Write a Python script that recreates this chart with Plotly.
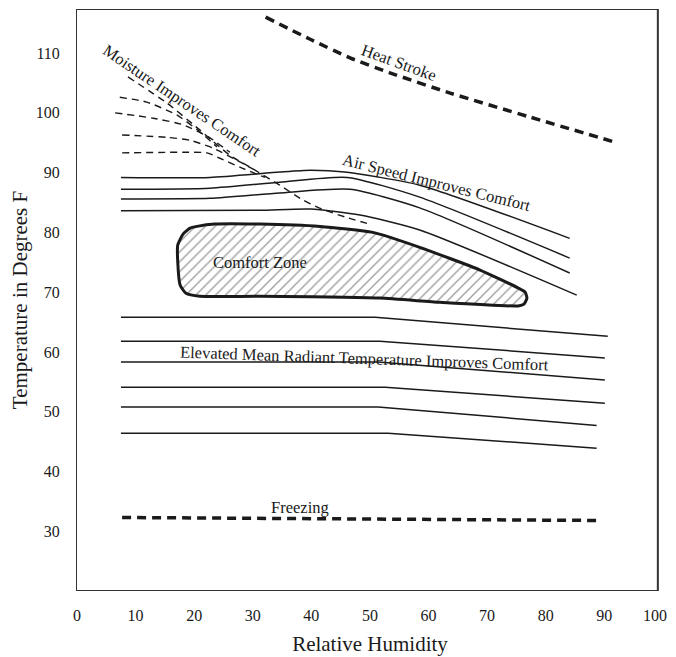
import plotly.graph_objects as go

# ---------------- data ----------------
x_ticks = [0, 10, 20, 30, 40, 50, 60, 70, 80, 90, 100]
y_ticks = [30, 40, 50, 60, 70, 80, 90, 100, 110]

heat_rh = [32.2, 39.8, 46.6, 53.4, 63.7, 77.3, 91.8]
heat_t = [116.0, 112.3, 109.2, 106.7, 103.3, 99.3, 95.1]

freeze_rh = [7.7, 88.7]
freeze_t = [32.3, 31.8]

air1_rh = [7.5, 22.7, 34.6, 39.8, 45.7, 58.5, 84.1]
air1_t = [89.2, 89.2, 90.1, 90.4, 90.1, 87.9, 79.0]
air2_rh = [7.5, 22.7, 34.6, 46.1, 58.5, 84.1]
air2_t = [87.2, 87.4, 88.4, 89.2, 85.9, 75.7]
air3_rh = [7.5, 22.7, 34.6, 46.6, 58.5, 84.1]
air3_t = [85.6, 85.7, 86.6, 87.2, 84.1, 73.2]
air4_rh = [7.5, 31.2, 39.8, 48.3, 58.5, 85.3]
air4_t = [83.6, 83.7, 83.9, 82.9, 80.4, 69.5]

rad1_rh = [7.5, 50.9, 90.6]
rad1_t = [65.8, 65.8, 62.6]
rad2_rh = [7.5, 51.7, 90.1]
rad2_t = [61.8, 61.8, 59.0]
rad3_rh = [7.5, 51.4, 90.1]
rad3_t = [58.3, 58.3, 55.3]
rad4_rh = [7.5, 52.6, 90.1]
rad4_t = [54.1, 54.1, 51.4]
rad5_rh = [7.5, 51.4, 88.7]
rad5_t = [50.8, 50.8, 47.7]
rad6_rh = [7.5, 53.1, 88.7]
rad6_t = [46.4, 46.4, 43.9]

moist_diag_rh = [8.7, 15.4, 21.0, 26.1, 30.4, 34.6, 38.6, 41.8, 45.7, 49.5]
moist_diag_t = [106.0, 101.6, 97.1, 92.9, 90.4, 87.9, 85.4, 83.9, 82.6, 81.5]
moistA_rh = [7.3, 11.9, 17.1, 21.0, 23.9]
moistA_t = [102.6, 101.8, 99.6, 96.8, 94.3]
moistB_rh = [6.5, 13.0, 18.1, 22.7, 26.1]
moistB_t = [100.0, 99.1, 98.0, 95.8, 93.4]
moistC_rh = [7.7, 15.4, 19.3, 23.2, 27.8, 30.4]
moistC_t = [96.3, 95.9, 95.4, 94.1, 91.8, 90.4]
moistD_rh = [7.7, 18.1, 22.2, 24.4, 27.8, 32.1]
moistD_t = [93.3, 93.4, 93.3, 92.4, 90.9, 89.2]

comfort_rh = [20.5, 23.5, 31.2, 41.5, 50.5, 58.5, 68.8, 75.3, 76.5, 76.8, 76.3, 75.3,
              61.9, 51.7, 31.2, 21.0, 18.6, 17.6, 17.2, 17.2, 18.1, 19.3, 20.5]
comfort_t = [81.0, 81.4, 81.4, 81.0, 80.0, 77.5, 73.7, 70.7, 70.0, 69.0, 68.0, 67.7,
             68.3, 69.0, 69.3, 69.3, 69.8, 71.2, 75.0, 77.9, 79.7, 80.7, 81.0]

labels = ["Heat Stroke", "Moisture Improves Comfort", "Air Speed Improves Comfort",
          "Comfort Zone", "Elevated Mean Radiant Temperature Improves Comfort", "Freezing"]
label_rh = [54.9, 17.9, 61.3, 31.2, 49.1, 38.1]
label_t = [108.5, 102.1, 88.3, 75.0, 58.9, 34.0]
label_angle = [20, 34, 14, 0, 2, 0]

X_RANGE = [-0.17, 100.2]
FRAME_RIGHT = 99.15
Y_RANGE = [20.0, 117.37]

INK = "#1a1a1a"
FONT = "Liberation Serif"

fig = go.Figure()

def add_line(x, y, width=1.5, dash="solid", shape="spline", smoothing=0.6):
    fig.add_trace(go.Scatter(
        x=x, y=y, mode="lines",
        line=dict(color=INK, width=width, dash=dash, shape=shape,
                  smoothing=smoothing if shape == "spline" else None),
        hoverinfo="skip", showlegend=False))

# comfort zone
fig.add_trace(go.Scatter(
    x=comfort_rh, y=comfort_t, mode="lines", fill="toself",
    fillcolor="white",
    fillpattern=dict(shape="/", fgcolor="#333333", bgcolor="white", size=7, solidity=0.18),
    line=dict(color=INK, width=3, shape="spline", smoothing=0.5),
    hoverinfo="skip", showlegend=False))

# heat stroke & freezing
add_line(heat_rh, heat_t, width=3.5, dash="9px,6px")
add_line(freeze_rh, freeze_t, width=3.5, dash="9px,6px", shape="linear")

# air speed lines
for xs, ys in [(air1_rh, air1_t), (air2_rh, air2_t), (air3_rh, air3_t), (air4_rh, air4_t)]:
    add_line(xs, ys, width=1.5)

# radiant lines
for xs, ys in [(rad1_rh, rad1_t), (rad2_rh, rad2_t), (rad3_rh, rad3_t),
               (rad4_rh, rad4_t), (rad5_rh, rad5_t), (rad6_rh, rad6_t)]:
    add_line(xs, ys, width=1.5, shape="linear")

# moisture dashed curves
for xs, ys in [(moist_diag_rh, moist_diag_t), (moistA_rh, moistA_t), (moistB_rh, moistB_t),
               (moistC_rh, moistC_t), (moistD_rh, moistD_t)]:
    add_line(xs, ys, width=1.4, dash="7px,5px")

for txt, xx, yy, ang in zip(labels, label_rh, label_t, label_angle):
    fig.add_annotation(x=xx, y=yy, text=txt, textangle=ang, showarrow=False,
                       xanchor="center", yanchor="middle",
                       font=dict(family=FONT, size=16.5, color=INK))

# last x tick label, nudged left so it stays inside the visible page
fig.add_annotation(x=x_ticks[-1], xref="x", y=0, yref="paper", text=str(x_ticks[-1]),
                   showarrow=False, xanchor="center", yanchor="top",
                   xshift=-8, yshift=-14, font=dict(family=FONT, size=16, color=INK))

# frame
fig.add_shape(type="rect", xref="x", yref="y",
              x0=X_RANGE[0], x1=FRAME_RIGHT, y0=Y_RANGE[0], y1=Y_RANGE[1],
              line=dict(color="#333333", width=2), layer="above")

# page body adds an 8px margin, so the figure is 8px smaller and margins shifted
fig.update_layout(
    width=668, height=649,
    margin=dict(l=68, r=12, t=1, b=66, autoexpand=False),
    paper_bgcolor="white", plot_bgcolor="white",
    font=dict(family=FONT, color=INK),
    showlegend=False,
)
fig.update_xaxes(
    range=X_RANGE, tickvals=x_ticks[:-1],
    showgrid=False, zeroline=False, showline=False,
    ticks="outside", ticklen=10, tickcolor="rgba(0,0,0,0)",
    tickfont=dict(family=FONT, size=16, color=INK),
    title=dict(text="Relative Humidity", font=dict(family=FONT, size=21, color=INK), standoff=13),
)
fig.update_yaxes(
    range=Y_RANGE, tickvals=y_ticks, showgrid=False, zeroline=False, showline=False,
    ticks="outside", ticklen=12, tickcolor="rgba(0,0,0,0)",
    tickfont=dict(family=FONT, size=16, color=INK),
    title=dict(text="Temperature in Degrees F", font=dict(family=FONT, size=21, color=INK), standoff=15),
)

fig.write_html("out.html")
